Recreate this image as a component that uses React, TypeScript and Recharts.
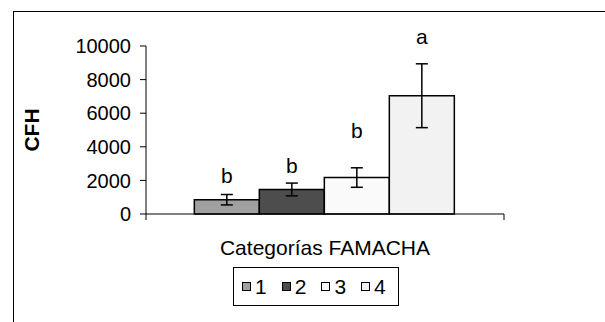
import React from 'react';
import { BarChart, Bar, XAxis, YAxis, ErrorBar, LabelList, Label } from 'recharts';

// FAMACHA categories, mean CFH, error (+/-) and significance letters
const categories = ['1', '2', '3', '4'];
const means = [850, 1460, 2170, 7040];
const errors = [310, 380, 580, 1900];
const letters = ['b', 'b', 'b', 'a'];
// height (in CFH units) of the letter baseline above each bar
const letterLevel = [1850, 2450, 4500, 10100];
const yTicks = [0, 2000, 4000, 6000, 8000, 10000];

const fills = ['#a0a0a0', '#4d4d4d', '#fafafa', '#f2f2f2'];
const font = '"Liberation Sans", Arial, sans-serif';

// one category holding the four bars side by side
const row: Record<string, string | number> = { name: 'FAMACHA' };
categories.forEach((c, i) => {
  row['v' + c] = means[i];
  row['e' + c] = errors[i];
});
const data = [row];

const letterLabel = (i: number) => (props: any) => {
  const x = Number(props.x);
  const y = Number(props.y);
  const width = Number(props.width);
  const height = Number(props.height);
  const value = Number(props.value);
  const zero = y + height;
  const ty = zero - (letterLevel[i] * height) / value;
  return (
    <text x={x + width / 2} y={ty} textAnchor="middle" fontSize={21} fill="#000">
      {letters[i]}
    </text>
  );
};

// Excel style: tick marks between categories, i.e. at both band edges
const EdgeTicks = (props: any) => {
  const { x, y, payload } = props;
  const half = Number(payload && payload.offset) || 0;
  return (
    <g>
      <line x1={x - half} x2={x - half} y1={y} y2={y + 6} stroke="#000" />
      <line x1={x + half} x2={x + half} y1={y} y2={y + 6} stroke="#000" />
    </g>
  );
};

export default function App() {
  return (
    <div
      style={{
        position: 'fixed',
        left: 0,
        top: 0,
        width: 605,
        height: 322,
        overflow: 'hidden',
        background: '#fff',
        fontFamily: font,
      }}
    >
      {/* outer frame, cut by the picture edges on the right and bottom */}
      <div
        style={{
          position: 'absolute',
          left: 13,
          top: 11,
          width: 700,
          height: 400,
          border: '1px solid #000',
        }}
      />
      <div style={{ position: 'absolute', left: 0, top: 0 }}>
        <BarChart
          width={605}
          height={322}
          data={data}
          margin={{ top: 46, right: 101, left: 0, bottom: 0 }}
          barCategoryGap="13.5%"
          barGap={0}
        >
          <XAxis
            dataKey="name"
            height={108}
            stroke="#000"
            tickLine={false}
            tickSize={0}
            tickMargin={0}
            tick={<EdgeTicks />}
          >
            <Label value="Categorías FAMACHA" position="insideTop" offset={26} fontSize={21} fill="#000" />
          </XAxis>
          <YAxis
            width={146}
            domain={[0, 10000]}
            ticks={yTicks}
            tickSize={6}
            tickMargin={9}
            stroke="#000"
            tick={{ fontSize: 20, fill: '#000' }}
          >
            <Label
              value="CFH"
              angle={-90}
              position="center"
              dx={-41}
              fontSize={21}
              fontWeight="bold"
              fill="#000"
            />
          </YAxis>
          {categories.map((c, i) => (
            <Bar
              key={c}
              dataKey={'v' + c}
              name={c}
              fill={fills[i]}
              stroke="#000"
              strokeWidth={1.5}
              isAnimationActive={false}
            >
              <ErrorBar dataKey={'e' + c} width={6} stroke="#000" strokeWidth={1.5} />
              <LabelList content={letterLabel(i)} />
            </Bar>
          ))}
        </BarChart>
      </div>
      {/* legend box */}
      <div
        style={{
          position: 'absolute',
          left: 233,
          top: 267,
          width: 166,
          height: 39,
          border: '1px solid #000',
          boxSizing: 'border-box',
          display: 'flex',
          alignItems: 'center',
          paddingLeft: 8,
          gap: 15,
        }}
      >
        {categories.map((c, i) => (
          <div key={c} style={{ display: 'flex', alignItems: 'center' }}>
            <span
              style={{
                display: 'inline-block',
                width: 9,
                height: 9,
                border: '1px solid #000',
                boxSizing: 'border-box',
                background: fills[i],
                marginRight: 4,
              }}
            />
            <span style={{ fontSize: 21, lineHeight: '21px' }}>{c}</span>
          </div>
        ))}
      </div>
    </div>
  );
}
